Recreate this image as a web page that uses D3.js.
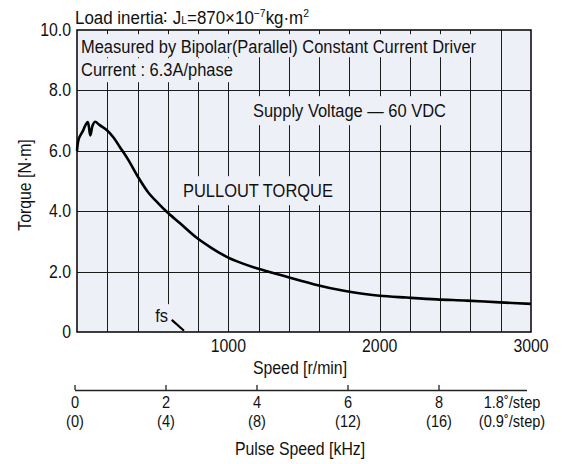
<!DOCTYPE html>
<html><head><meta charset="utf-8">
<script src="https://cdn.jsdelivr.net/npm/d3@7"></script>
<style>
body{margin:0;background:#fff}
text{font-family:"Liberation Sans",Arial,sans-serif;fill:#111}
</style>
</head><body><svg id="c" width="562" height="464"></svg>
<script>
// ---- data ----
const speed  = [0, 12, 40, 55, 71, 88, 103, 119, 150, 196, 240, 284, 339, 405, 471, 537, 593, 681, 791, 890, 989, 1088, 1187, 1386, 1584, 1738, 1900, 2000, 2178, 2377, 2575, 2795, 3000];
const torque = [6.0, 6.4, 6.67, 6.84, 6.95, 6.51, 6.84, 6.96, 6.85, 6.69, 6.45, 6.12, 5.70, 5.12, 4.62, 4.26, 3.98, 3.60, 3.12, 2.78, 2.49, 2.28, 2.11, 1.83, 1.56, 1.39, 1.26, 1.20, 1.14, 1.08, 1.04, 0.98, 0.93];
const yTicks = [0, 2, 4, 6, 8, 10];
const yTickLabels = ["0", "2.0", "4.0", "6.0", "8.0", "10.0"];
const xTicks = [1000, 2000, 3000];
const xGrid = [200, 400, 600, 800, 1000, 1200, 1400, 1600, 1800, 2000, 2200, 2400, 2600, 2800];
const pulseTicks = [0, 2, 4, 6, 8];
const pulseLabels = ["0", "2", "4", "6", "8"];
const pulseHalfLabels = ["(0)", "(4)", "(8)", "(12)", "(16)"];
const fsSpeed = [626, 707];
const fsTorque = [0.40, 0.04];

// ---- layout ----
const svg = d3.select("#c");
const L = 77, R = 531, T = 30, B = 332;
const x = d3.scaleLinear().domain([0, 3000]).range([L, R]);
const y = d3.scaleLinear().domain([0, 10]).range([B, T]);
const p = d3.scaleLinear().domain([0, 10]).range([75, 530]);
const BG = "#eef0f8";
const SX = 0.9;          // condensed look
const FS = 17.6;

svg.append("rect").attr("x", L).attr("y", T).attr("width", R - L).attr("height", B - T).attr("fill", BG);

// grid
const grid = svg.append("g").attr("stroke", "#1b1b1b").attr("stroke-width", 1);
grid.selectAll("line.v").data(xGrid).join("line").attr("class", "v")
  .attr("x1", d => Math.round(x(d)) + 0.5).attr("x2", d => Math.round(x(d)) + 0.5)
  .attr("y1", T).attr("y2", B);
grid.selectAll("line.h").data(yTicks.slice(1, -1)).join("line").attr("class", "h")
  .attr("x1", L).attr("x2", R)
  .attr("y1", d => Math.round(y(d)) + 0.5).attr("y2", d => Math.round(y(d)) + 0.5);

// condensed text helper
function ctext(parent, str, tx, ty, size, anchor, extra) {
  const g = parent.append("g").attr("transform", `translate(${tx},${ty}) ${extra || ""} scale(${SX},1)`);
  const t = g.append("text").attr("x", 0).attr("y", 0).attr("font-size", size)
    .attr("text-anchor", anchor || "start").text(str);
  return {g, t};
}
const lab = svg.append("g");
function label(str, tx, ty, size, anchor, pad) {
  const {g, t} = ctext(lab, str, tx, ty, size, anchor);
  const b = t.node().getBBox();
  const pd = pad || [2, 2, 2, 2];
  g.insert("rect", "text").attr("x", b.x - pd[3] / SX).attr("y", b.y - pd[0])
    .attr("width", b.width + (pd[1] + pd[3]) / SX).attr("height", b.height + pd[0] + pd[2]).attr("fill", BG);
}
label("Measured by Bipolar(Parallel) Constant Current Driver", 81, 53, 18.3, "start", [2, 3, 0, 3]);
label("Current : 6.3A/phase", 81, 76, 18.3, "start", [1, 3, 2, 3]);
label("Supply Voltage \u2014 60 VDC", 253, 117, 18.3, "start", [4, 3, 4, 3]);
label("PULLOUT TORQUE", 183, 197, 18.3, "start", [4, 3, 4, 3]);
label("fs", 168, 322, 18.3, "end", [1, 2, 7, 2]);

// curve
const pts = speed.map((s, i) => [s, torque[i]]);
svg.append("path").datum(pts)
  .attr("d", d3.line().x(d => x(d[0])).y(d => y(d[1])).curve(d3.curveCatmullRom.alpha(0.5)))
  .attr("fill", "none").attr("stroke", "#000").attr("stroke-width", 2.6).attr("stroke-linejoin", "round");

// fs marker
svg.append("path").datum(fsSpeed.map((s, i) => [s, fsTorque[i]]))
  .attr("d", d3.line().x(d => x(d[0])).y(d => y(d[1])))
  .attr("stroke", "#000").attr("stroke-width", 2.2);

// border
svg.append("rect").attr("x", L).attr("y", T).attr("width", R - L).attr("height", B - T)
  .attr("fill", "none").attr("stroke", "#000").attr("stroke-width", 1.5);

// y tick labels
const yl = svg.append("g");
yTicks.forEach((d, i) => ctext(yl, yTickLabels[i], 71, y(d) + 6, FS, "end"));
ctext(svg, "Torque [N\u00b7m]", 31, 185, FS, "middle", "rotate(-90)");

// x tick labels
const xl = svg.append("g");
xTicks.forEach(d => ctext(xl, String(d), x(d), 352, FS, "middle"));
ctext(svg, "Speed [r/min]", 300, 374, FS, "middle");

// pulse axis
const pa = svg.append("g");
pa.append("line").attr("x1", 75).attr("x2", 527).attr("y1", 390.5).attr("y2", 390.5)
  .attr("stroke", "#222").attr("stroke-width", 1.3);
pa.selectAll("line.t").data(pulseTicks).join("line").attr("class", "t")
  .attr("x1", d => p(d)).attr("x2", d => p(d)).attr("y1", 385).attr("y2", 390)
  .attr("stroke", "#222").attr("stroke-width", 1.3);
const PF = 16.2;
pulseTicks.forEach((d, i) => {
  ctext(pa, pulseLabels[i], p(d), 408, PF, "middle");
  ctext(pa, pulseHalfLabels[i], p(d), 426.5, PF, "middle");
});
ctext(pa, "1.8\u02da/step", 512, 408, PF, "middle");
ctext(pa, "(0.9\u02da/step)", 512, 426.5, PF, "middle");
ctext(pa, "Pulse Speed [kHz]", 300, 455, FS, "middle");

// title
const tg = svg.append("g").attr("transform", `translate(75,24) scale(${SX},1)`);
const tt = tg.append("text").attr("x", 0).attr("y", 0).attr("font-size", 18.8);
tt.append("tspan").text("Load inertia\u2236 J");
tt.append("tspan").attr("font-size", 11.5).text("L");
tt.append("tspan").text("=870\u00d710");
tt.append("tspan").attr("font-size", 11.5).attr("dy", -7).text("\u22127");
tt.append("tspan").attr("dy", 7).text("kg\u00b7m");
tt.append("tspan").attr("font-size", 11.5).attr("dy", -7).text("2");
</script></body></html>
